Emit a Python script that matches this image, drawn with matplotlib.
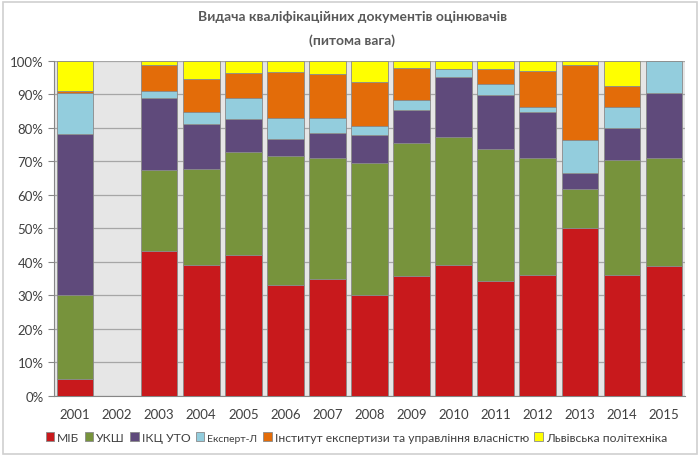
import matplotlib
matplotlib.use("Agg")
import matplotlib.pyplot as plt
import numpy as np
from matplotlib.patches import Rectangle

plt.rcParams['font.family'] = ['Lato', 'DejaVu Sans']

years = ['2001', '2002', '2003', '2004', '2005', '2006', '2007', '2008',
         '2009', '2010', '2011', '2012', '2013', '2014', '2015']

series_names = ['МІБ', 'УКШ', 'ІКЦ УТО', 'Експерт-Л',
                'Інститут експертизи та управління власністю', 'Львівська політехніка']

mib      = [5.0, 0, 43.1, 39.0, 42.1, 33.1, 34.8, 30.0, 35.9, 39.1, 34.4, 36.2, 50.0, 36.2, 38.6]
uksh     = [25.0, 0, 24.2, 28.6, 30.6, 38.3, 36.1, 39.5, 39.5, 38.0, 39.3, 34.6, 11.6, 34.2, 32.2]
ikc_uto  = [48.0, 0, 21.4, 13.4, 9.9, 5.2, 7.4, 8.3, 9.7, 17.9, 16.1, 13.8, 4.9, 9.5, 19.5]
expert_l = [12.2, 0, 2.3, 3.6, 6.2, 6.3, 4.6, 2.8, 3.2, 2.5, 3.1, 1.5, 9.9, 6.3, 9.7]
instytut = [0.8, 0, 7.7, 9.9, 7.4, 13.6, 13.1, 12.9, 9.4, 0.0, 4.6, 10.9, 22.35, 6.1, 0.0]
lviv     = [9.0, 0, 1.3, 5.5, 3.8, 3.5, 4.0, 6.5, 2.3, 2.5, 2.5, 3.0, 1.25, 7.7, 0.0]

colors = ['#C8191C', '#77933C', '#5F4A7B', '#93CDDD', '#E36C09', '#FFFF00']
series = [mib, uksh, ikc_uto, expert_l, instytut, lviv]

fig = plt.figure(figsize=(7, 4.6), dpi=100)
ax = fig.add_axes([0.0771, 0.137, 0.9015, 0.7293])
ax.set_facecolor('#E6E6E6')

x = np.arange(len(years))
bottom = np.zeros(len(years))
for vals, col in zip(series, colors):
    v = np.array(vals, dtype=float)
    mask = v > 0
    ax.bar(x[mask], v[mask], bottom=bottom[mask], width=0.87, color=col,
           edgecolor='#8a8a8a', linewidth=0.6, zorder=3)
    bottom += v

ax.set_xlim(-0.5, len(years) - 0.5)
ax.set_ylim(0, 100)
ax.set_yticks(np.arange(0, 101, 10))
ax.set_yticklabels([f'{t}%' for t in range(0, 101, 10)])
ax.set_xticks(x)
ax.set_xticklabels(years)
ax.yaxis.grid(True, color='#A6A6A6', linewidth=0.9, zorder=0)
ax.set_axisbelow(True)
for s in ['top', 'right']:
    ax.spines[s].set_visible(False)
ax.spines['left'].set_color('#868686')
ax.spines['bottom'].set_color('#868686')
ax.tick_params(axis='y', colors='#868686', labelcolor='#404040', labelsize=9.5, length=4, direction='out')
ax.tick_params(axis='x', length=0, labelcolor='#404040', labelsize=9.5, pad=9)

fig.text(0.503, 0.962, 'Видача кваліфікаційних документів оцінювачів',
         ha='center', va='center', fontsize=10, fontweight='bold', color='#595959')
fig.text(0.503, 0.912, '(питома вага)',
         ha='center', va='center', fontsize=10, fontweight='bold', color='#595959')

handles = [Rectangle((0, 0), 1, 1, facecolor=c, edgecolor='#8a8a8a', linewidth=0.6) for c in colors]
leg = fig.legend(handles, series_names, loc='center', bbox_to_anchor=(0.509, 0.047), ncol=6,
                 frameon=False, fontsize=8.7, handlelength=0.7, handleheight=0.7,
                 handletextpad=0.25, columnspacing=0.45, borderpad=0)
for t in leg.get_texts():
    t.set_color('#404040')
leg.get_texts()[3].set_fontsize(7.5)

fig.patches.append(Rectangle((0.004, 0.01), 0.992, 0.983, transform=fig.transFigure,
                             fill=False, edgecolor='#D0D0D0', linewidth=1.2))

fig.savefig('out.png', dpi=100)
